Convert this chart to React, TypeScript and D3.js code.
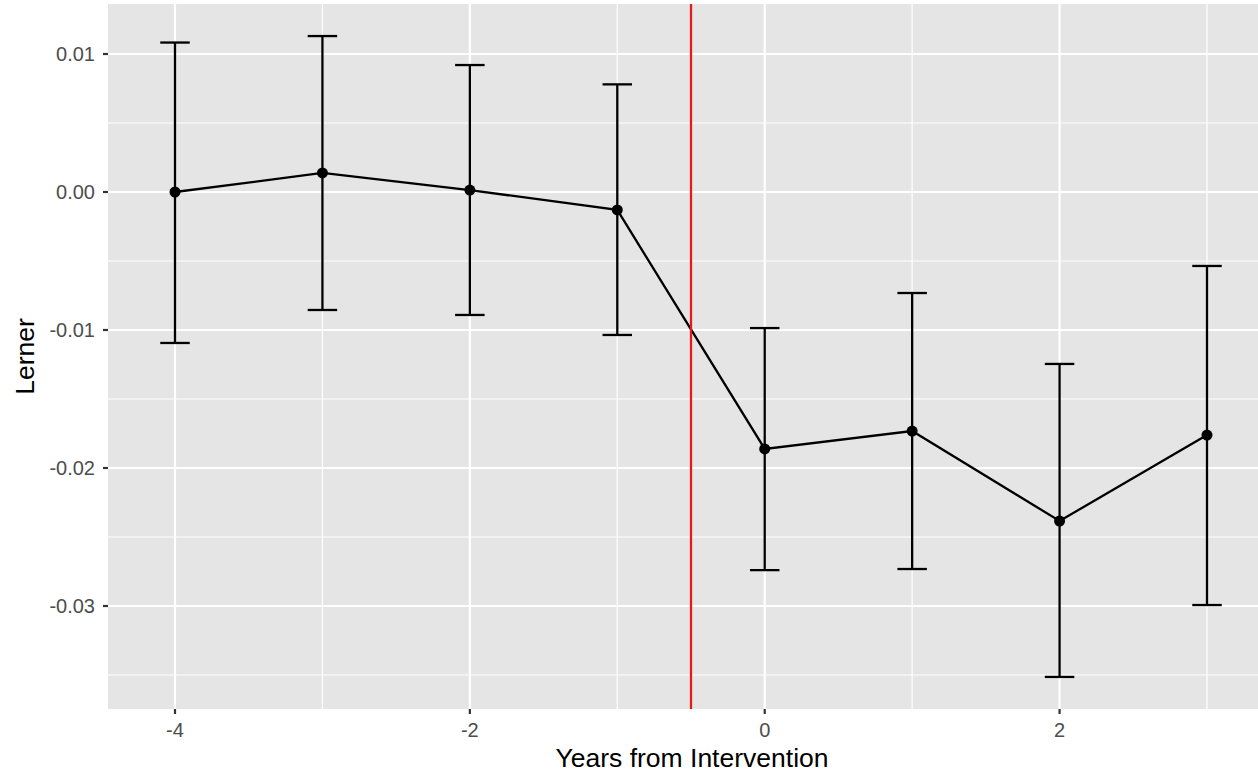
import * as d3 from "d3";

const years = [-4, -3, -2, -1, 0, 1, 2, 3];
const estimates = [0.0, 0.00138, 0.00014, -0.0013, -0.01862, -0.01732, -0.02384, -0.01761];
const upper = [0.01083, 0.0113, 0.0092, 0.0078, -0.00986, -0.00732, -0.01246, -0.00536];
const lower = [-0.01094, -0.00855, -0.00891, -0.01036, -0.0274, -0.02732, -0.03514, -0.02993];
const xMajor = [-4, -2, 0, 2];
const xMinor = [-3, -1, 1, 3];
const yMajor = [0.01, 0.0, -0.01, -0.02, -0.03];
const yMinor = [0.005, -0.005, -0.015, -0.025, -0.035];
const interventionAt = -0.5;

const W = 1258;
const H = 772;
const panel = { left: 108, right: 1258, top: 4, bottom: 709 };

export default function App() {
  const x = d3.scaleLinear().domain([-4, 3]).range([175, 1207]);
  const y = d3.scaleLinear().domain([0.01, -0.03]).range([54, 606]);
  const line = d3
    .line<number>()
    .x((_, i) => x(years[i]))
    .y((d) => y(d));
  const capHalf = x(0.1) - x(0);
  const font = "'Liberation Sans', Arial, Helvetica, sans-serif";

  return (
    <svg
      width={W}
      height={H}
      style={{ position: "absolute", left: 0, top: 0, background: "#fff" }}
      fontFamily={font}
    >
      <rect
        x={panel.left}
        y={panel.top}
        width={panel.right - panel.left}
        height={panel.bottom - panel.top}
        fill="#e5e5e5"
      />
      {/* minor grid */}
      {yMinor.map((v) => (
        <line key={"ym" + v} x1={panel.left} x2={panel.right} y1={y(v)} y2={y(v)} stroke="#fff" strokeWidth={1.2} />
      ))}
      {xMinor.map((v) => (
        <line key={"xm" + v} x1={x(v)} x2={x(v)} y1={panel.top} y2={panel.bottom} stroke="#fff" strokeWidth={1.2} />
      ))}
      {/* major grid */}
      {yMajor.map((v) => (
        <line key={"yM" + v} x1={panel.left} x2={panel.right} y1={y(v)} y2={y(v)} stroke="#fff" strokeWidth={2.2} />
      ))}
      {xMajor.map((v) => (
        <line key={"xM" + v} x1={x(v)} x2={x(v)} y1={panel.top} y2={panel.bottom} stroke="#fff" strokeWidth={2.2} />
      ))}

      {/* error bars */}
      {years.map((yr, i) => (
        <g key={"eb" + yr} stroke="#000" strokeWidth={2.3}>
          <line x1={x(yr)} x2={x(yr)} y1={y(upper[i])} y2={y(lower[i])} />
          <line x1={x(yr) - capHalf} x2={x(yr) + capHalf} y1={y(upper[i])} y2={y(upper[i])} />
          <line x1={x(yr) - capHalf} x2={x(yr) + capHalf} y1={y(lower[i])} y2={y(lower[i])} />
        </g>
      ))}
      <path d={line(estimates) || ""} fill="none" stroke="#000" strokeWidth={2.3} />
      {years.map((yr, i) => (
        <circle key={"pt" + yr} cx={x(yr)} cy={y(estimates[i])} r={5.5} fill="#000" />
      ))}
      <line
        x1={x(interventionAt)}
        x2={x(interventionAt)}
        y1={panel.top}
        y2={panel.bottom}
        stroke="#e41a1c"
        strokeWidth={2.3}
      />

      {/* y axis */}
      {yMajor.map((v) => (
        <g key={"yt" + v}>
          <line x1={panel.left - 5} x2={panel.left} y1={y(v)} y2={y(v)} stroke="#333" strokeWidth={2.2} />
          <text x={panel.left - 13} y={y(v)} dy="0.35em" textAnchor="end" fontSize={20} fill="#4d4d4d">
            {d3.format(".2f")(v).replace("−", "-")}
          </text>
        </g>
      ))}
      {/* x axis */}
      {xMajor.map((v) => (
        <g key={"xt" + v}>
          <line x1={x(v)} x2={x(v)} y1={panel.bottom} y2={panel.bottom + 5} stroke="#333" strokeWidth={2.2} />
          <text x={x(v)} y={737} textAnchor="middle" fontSize={20} fill="#4d4d4d">
            {String(v)}
          </text>
        </g>
      ))}
      <text x={692} y={767} textAnchor="middle" fontSize={26.5} fill="#000">
        Years from Intervention
      </text>
      <text
        transform={`translate(34, ${(panel.top + panel.bottom) / 2}) rotate(-90)`}
        textAnchor="middle"
        fontSize={26.5}
        fill="#000"
      >
        Lerner
      </text>
    </svg>
  );
}
